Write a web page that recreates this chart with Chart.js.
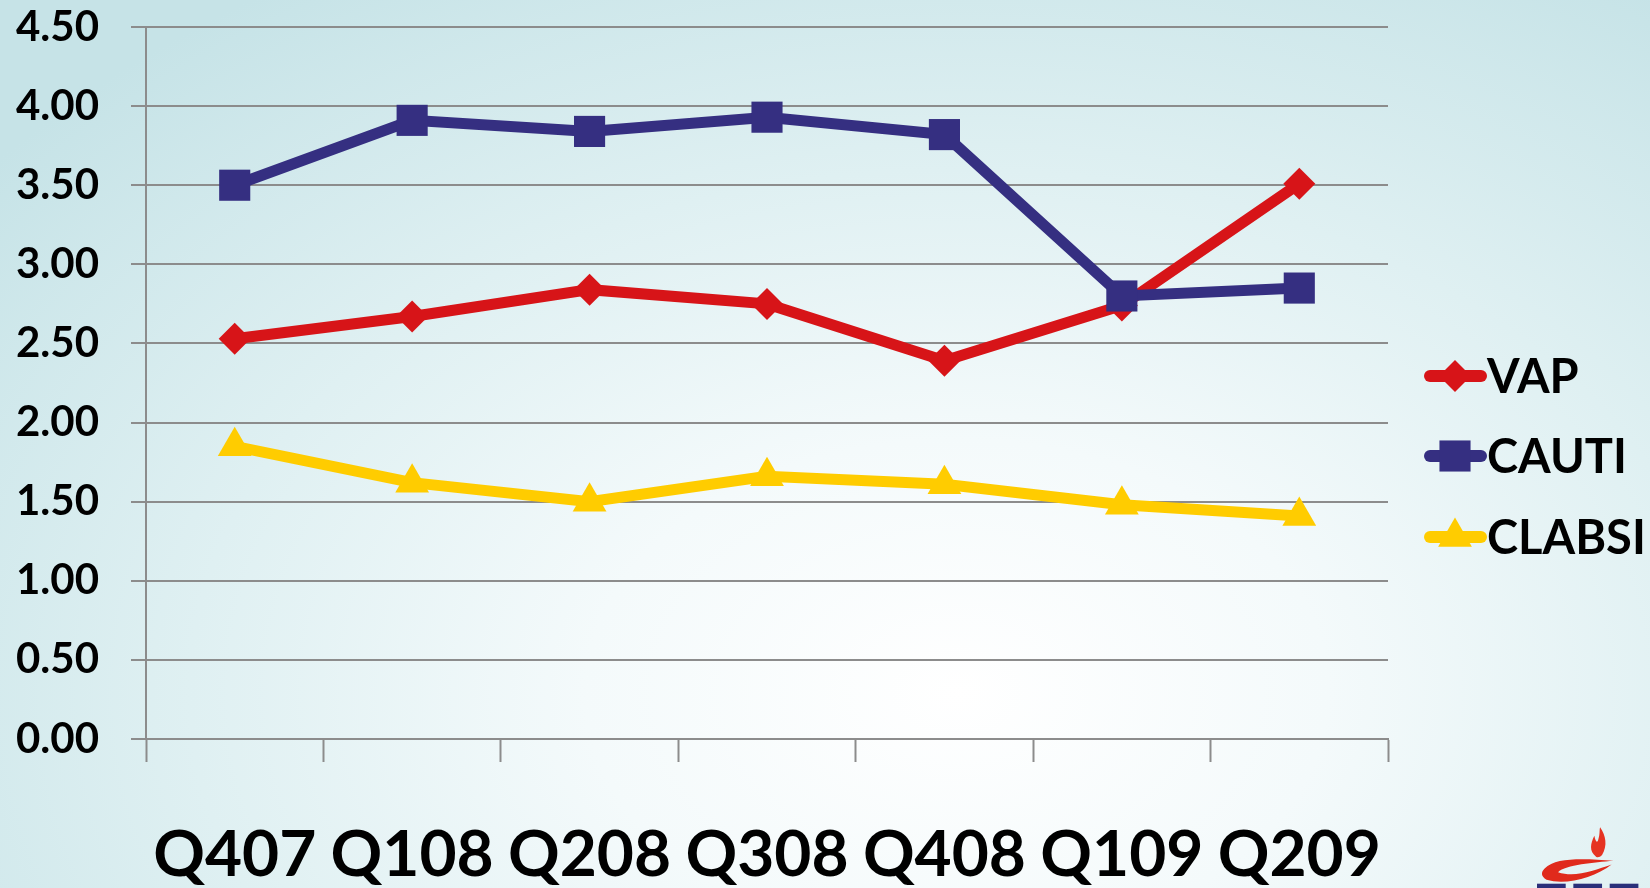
<!DOCTYPE html>
<html>
<head>
<meta charset="utf-8">
<script src="https://cdn.jsdelivr.net/npm/chart.js@4.4.1/dist/chart.umd.min.js"></script>
<style>
  html, body { margin: 0; padding: 0; }
  .chartContainer {
    position: relative;
    width: 1650px;
    height: 888px;
    overflow: hidden;
    background: radial-gradient(ellipse 75% 95% at 58% 78%, #ffffff 0%, #f4fafb 30%, #dff0f2 62%, #c6e3e7 100%);
  }
  .logo { position: absolute; left: 1537px; top: 822px; }
</style>
</head>
<body>
<div class="chartContainer">
  <canvas id="chart"></canvas>
  <svg class="logo" width="110" height="66" viewBox="0 0 115 68">
    <path d="M8 48 C 20 36, 50 38, 80 40 C 60 42, 30 44, 22 52 C 40 58, 60 50, 78 44 C 60 58, 30 66, 10 60 C 4 56, 4 52, 8 48 Z" fill="#e02a1c"/>
    <path d="M62 36 C 54 30, 56 22, 60 14 C 61 20, 63 22, 64 18 C 66 12, 65 8, 66 5 C 72 14, 74 24, 68 34 C 66 36, 64 37, 62 36 Z" fill="#e63322"/>
    <rect x="0" y="64" width="30" height="6" fill="#2a2f7a"/>
    <rect x="38" y="64" width="30" height="6" fill="#2a2f7a"/>
    <rect x="76" y="64" width="30" height="6" fill="#2a2f7a"/>
  </svg>
</div>
<script>
const quarters = ['Q407', 'Q108', 'Q208', 'Q308', 'Q408', 'Q109', 'Q209'];
const vapValues = [2.53, 2.67, 2.84, 2.75, 2.39, 2.74, 3.51];
const cautiValues = [3.50, 3.91, 3.84, 3.93, 3.82, 2.80, 2.85];
const clabsiValues = [1.85, 1.62, 1.50, 1.66, 1.61, 1.48, 1.41];
const yTicks = [0, 0.5, 1, 1.5, 2, 2.5, 3, 3.5, 4, 4.5];

const seriesNames = ['VAP', 'CAUTI', 'CLABSI'];
const seriesColors = ['#d71418', '#352f81', '#ffcc00'];
const seriesMarkers = ['rectRot', 'rect', 'triangle'];
const markerSizes = [16, 22, 19.5];

const gridColor = '#8c8c8c';
const fontFamily = 'Lato, "Open Sans", sans-serif';

// excel style legend: short line with the marker on it, then the name
const sideLegend = {
  id: 'sideLegend',
  afterDraw(chart) {
    const ctx = chart.ctx;
    const rows = [376, 456, 537];
    ctx.save();
    chart.data.datasets.forEach((ds, i) => {
      const y = rows[i];
      ctx.strokeStyle = ds.borderColor;
      ctx.lineWidth = 12;
      ctx.lineCap = 'round';
      ctx.beginPath();
      ctx.moveTo(1430, y);
      ctx.lineTo(1481, y);
      ctx.stroke();
      ctx.fillStyle = ds.backgroundColor;
      Chart.helpers.drawPoint(ctx, {
        pointStyle: ds.pointStyle,
        radius: ds.pointRadius,
        borderWidth: 0
      }, 1455, y);
      ctx.fillStyle = '#000';
      ctx.font = 'bold 47px ' + fontFamily;
      ctx.textBaseline = 'middle';
      ctx.textAlign = 'left';
      ctx.fillText(ds.label, 1487, y + 2);
    });
    ctx.restore();
  }
};

function makeDataset(i, values, order) {
  return {
    label: seriesNames[i],
    data: values,
    borderColor: seriesColors[i],
    backgroundColor: seriesColors[i],
    borderWidth: 11,
    pointStyle: seriesMarkers[i],
    pointRadius: markerSizes[i],
    pointHoverRadius: markerSizes[i],
    pointBorderWidth: 0,
    tension: 0,
    order: order
  };
}

const ctx = document.getElementById('chart').getContext('2d');
new Chart(ctx, {
  type: 'line',
  data: {
    labels: quarters,
    datasets: [
      makeDataset(0, vapValues, 3),
      makeDataset(1, cautiValues, 2),
      makeDataset(2, clabsiValues, 1)
    ]
  },
  plugins: [sideLegend],
  options: {
    responsive: true,
    maintainAspectRatio: false,
    animation: false,
    layout: { padding: { top: 27, right: 262, left: 0, bottom: 0 } },
    plugins: {
      legend: { display: false },
      tooltip: { enabled: false }
    },
    scales: {
      x: {
        offset: true,
        afterFit: (scale) => {
          scale.height = 149;
          scale.paddingLeft = 0;
          scale.paddingRight = 0;
        },
        grid: {
          offset: true,
          drawOnChartArea: false,
          drawTicks: true,
          tickLength: 23,
          tickWidth: 2,
          tickColor: gridColor
        },
        border: { color: gridColor, width: 2 },
        ticks: {
          color: '#000',
          padding: 55,
          maxRotation: 0,
          font: { family: fontFamily, size: 64, weight: 'bold' }
        }
      },
      y: {
        min: 0,
        max: 4.5,
        afterFit: (scale) => {
          scale.width = 146;
          scale.paddingTop = 0;
          scale.paddingBottom = 0;
        },
        afterBuildTicks: (scale) => { scale.ticks = yTicks.map(v => ({ value: v })); },
        grid: {
          color: gridColor,
          lineWidth: 2,
          drawTicks: true,
          tickLength: 15
        },
        border: { color: gridColor, width: 2 },
        ticks: {
          color: '#000',
          padding: 32,
          callback: (v) => Number(v).toFixed(2),
          font: { family: fontFamily, size: 42, weight: 'bold' }
        }
      }
    }
  }
});
</script>
</body>
</html>
